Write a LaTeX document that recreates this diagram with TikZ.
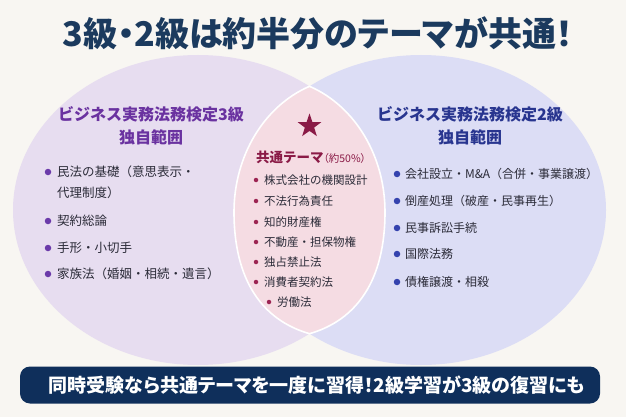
\documentclass[tikz,border=0pt]{standalone}
\usepackage{fontspec}
\newfontfamily\jp{Noto Sans CJK JP}
\newfontfamily\jpp[RawFeature=+palt]{Noto Sans CJK JP}
\usetikzlibrary{shapes.geometric}
\definecolor{bgc}{HTML}{F8F6F2}
\definecolor{lcirc}{HTML}{E7DDF0}
\definecolor{rcirc}{HTML}{DCDDF5}
\definecolor{lensc}{HTML}{F5DCE3}
\definecolor{titlec}{HTML}{1B3A5E}
\definecolor{headl}{HTML}{6A32A0}
\definecolor{headr}{HTML}{28358F}
\definecolor{headc}{HTML}{8A1A46}
\definecolor{dotl}{HTML}{6B3AAA}
\definecolor{dotr}{HTML}{3442AE}
\definecolor{dotc}{HTML}{9C2452}
\definecolor{textc}{HTML}{2B2B38}
\definecolor{bannerc}{HTML}{0F2F5B}
\begin{document}
\begin{tikzpicture}[x=1pt,y=-1pt,
  every node/.style={inner sep=0pt, outer sep=0pt},
  head/.style={font=\jp\bfseries\fontsize{16}{23}\selectfont, align=center},
  item/.style={anchor=west, font=\jp\fontsize{12}{14}\selectfont, text=textc},
  litem/.style={anchor=west, font=\jp\fontsize{12.5}{14}\selectfont, text=textc},
  citem/.style={anchor=west, font=\jp\fontsize{11.5}{13}\selectfont, text=textc},
  dotL/.style={circle, fill=dotl, minimum size=6.5pt},
  dotR/.style={circle, fill=dotr, minimum size=6.5pt},
  dotC/.style={circle, fill=dotc, minimum size=4.5pt}]
\useasboundingbox (0,0) rectangle (626,417);
\fill[bgc] (0,0) rectangle (626,417);
% circles
\fill[lcirc] (198,210) ellipse [x radius=185pt, y radius=155pt];
\fill[rcirc] (421,210) ellipse [x radius=185pt, y radius=155pt];
% lens
\filldraw[fill=lensc, draw=white, line width=1.6pt]
  (309.5,86.3) .. controls (264,106) and (234,156) .. (234,212)
  .. controls (234,280) and (262,320) .. (309.5,333.7)
  .. controls (357,320) and (385,280) .. (385,212)
  .. controls (385,156) and (355,106) .. (309.5,86.3) -- cycle;
% title
\node[font=\jpp\bfseries\fontsize{34}{38}\selectfont, text=titlec] (title) at (318,33) {3級・2級は約半分のテーマが共通！};
% headings
\node[head, text=headl] (lhead) at (151,126) {ビジネス実務法務検定3級\\独自範囲};
\node[head, text=headr] (rhead) at (470,126) {ビジネス実務法務検定2級\\独自範囲};
% star + center heading
\node[star, star points=5, star point ratio=2.55, fill=headc, minimum size=25pt] (star) at (309.5,126) {};
\node[text=headc] (chead) at (311,157) {{\jp\bfseries\fontsize{13.5}{16}\selectfont 共通テーマ}{\jpp\fontsize{10.5}{12}\selectfont （約50\%）}};
% left list
\node[dotL] (ld1) at (48,172) {};
\node[litem] (lt1) at (57,172) {民法の基礎（意思表示・};
\node[litem] (lt1b) at (57,193) {代理制度）};
\node[dotL] (ld2) at (48,221) {};
\node[litem] (lt2) at (57,221) {契約総論};
\node[dotL] (ld3) at (48,248) {};
\node[litem] (lt3) at (57,248) {手形・小切手};
\node[dotL] (ld4) at (48,274) {};
\node[litem] (lt4) at (57,274) {家族法（婚姻・相続・遺言）};
% right list
\node[dotR] (rd1) at (397,174) {};
\node[item] (rt1) at (405,174) {会社設立・M\&A（合併・事業譲渡）};
\node[dotR] (rd2) at (397,201) {};
\node[item] (rt2) at (405,201) {倒産処理（破産・民事再生）};
\node[dotR] (rd3) at (397,228) {};
\node[item] (rt3) at (405,228) {民事訴訟手続};
\node[dotR] (rd4) at (397,254) {};
\node[item] (rt4) at (405,254) {国際法務};
\node[dotR] (rd5) at (397,282) {};
\node[item] (rt5) at (405,282) {債権譲渡・相殺};
% center list
\node[dotC] (cd1) at (256,180) {};
\node[citem] (ct1) at (264,180) {株式会社の機関設計};
\node[dotC] (cd2) at (256,201) {};
\node[citem] (ct2) at (264,201) {不法行為責任};
\node[dotC] (cd3) at (256,222) {};
\node[citem] (ct3) at (264,222) {知的財産権};
\node[dotC] (cd4) at (256,242) {};
\node[citem] (ct4) at (264,242) {不動産・担保物権};
\node[dotC] (cd5) at (256,262) {};
\node[citem] (ct5) at (264,262) {独占禁止法};
\node[dotC] (cd6) at (256,282) {};
\node[citem] (ct6) at (264,282) {消費者契約法};
\node[dotC] (cd7) at (269,302) {};
\node[citem] (ct7) at (277,302) {労働法};
% banner
\node[fill=bannerc, rounded corners=10pt, minimum width=580pt, minimum height=37pt] (banner) at (310,385) {};
\node[font=\jpp\bfseries\fontsize{19}{22}\selectfont, text=white] (btext) at (317,385) {同時受験なら共通テーマを一度に習得！2級学習が3級の復習にも};
\end{tikzpicture}
\end{document}
